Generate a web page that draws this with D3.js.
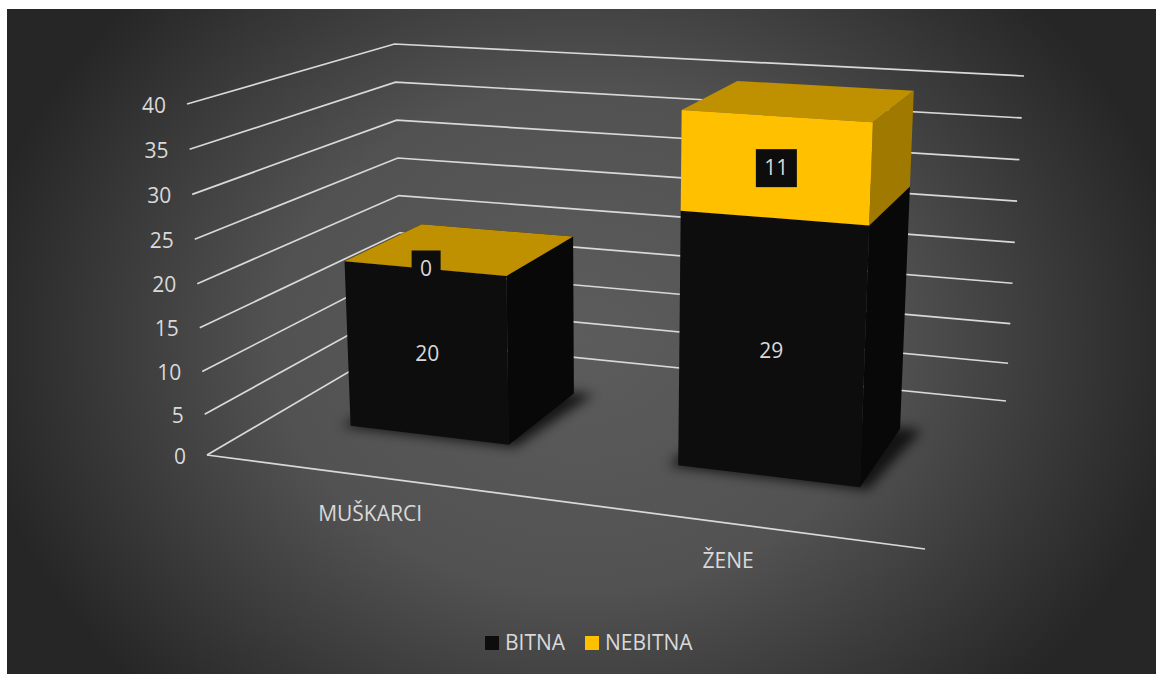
<!DOCTYPE html>
<html>
<head>
<meta charset="utf-8">
<script src="https://cdn.jsdelivr.net/npm/d3@7"></script>
<style>
html, body { margin: 0; padding: 0; background: #fff; }
svg { display: block; }
text { font-family: "Open Sans", sans-serif; fill: #d9d9d9; font-size: 21px; }
</style>
</head>
<body>
<div id="chart"></div>
<script>
var categories = ["MUŠKARCI", "ŽENE"];
var bitna = [20, 29];
var nebitna = [0, 11];
var valueTicks = [0, 5, 10, 15, 20, 25, 30, 35, 40];
var seriesNames = ["BITNA", "NEBITNA"];
var seriesColors = ["#0d0d0d", "#ffc000"];

var width = 1156, height = 674;

var svg = d3.select("#chart").append("svg")
	.attr("width", width)
	.attr("height", height);

var defs = svg.append("defs");

var bg = defs.append("radialGradient")
	.attr("id", "bg")
	.attr("gradientUnits", "userSpaceOnUse")
	.attr("cx", 0).attr("cy", 0).attr("r", 1)
	.attr("gradientTransform", "translate(581,340) scale(610,500)");
bg.append("stop").attr("offset", "0%").attr("stop-color", "#5c5c5c");
bg.append("stop").attr("offset", "50%").attr("stop-color", "#525252");
bg.append("stop").attr("offset", "100%").attr("stop-color", "#262626");

var blur = defs.append("filter").attr("id", "blur")
	.attr("x", "-20%").attr("y", "-20%").attr("width", "140%").attr("height", "140%");
blur.append("feGaussianBlur").attr("stdDeviation", 6);

svg.append("rect")
	.attr("x", 7).attr("y", 9)
	.attr("width", 1149).attr("height", 665)
	.attr("fill", "url(#bg)");

// pod grafikona (uglovi na ekranu) i visina zida u tim uglovima
var floor = { fl: [207, 455], fr: [925, 549], br: [1006, 401], bl: [403, 340] };
var wallH = { fl: 351, br: 325, bl: 296 };
var vanish = [610, 7537];

var x = d3.scaleBand().domain(categories).range([0.004, 1.004]).paddingInner(0.5).paddingOuter(0.25);
var z = d3.scaleBand().domain(["d"]).range([0, 1]).paddingOuter(0.72);
var y = d3.scalePow().exponent(1.035).domain([0, 40]).range([0, 1]);

// homografija poda
var dx1 = floor.fr[0] - floor.br[0], dx2 = floor.bl[0] - floor.br[0];
var dy1 = floor.fr[1] - floor.br[1], dy2 = floor.bl[1] - floor.br[1];
var sx = floor.fl[0] - floor.fr[0] + floor.br[0] - floor.bl[0];
var sy = floor.fl[1] - floor.fr[1] + floor.br[1] - floor.bl[1];
var det = dx1 * dy2 - dx2 * dy1;
var g = (sx * dy2 - dx2 * sy) / det;
var h = (dx1 * sy - sx * dy1) / det;
var a = floor.fr[0] - floor.fl[0] + g * floor.fr[0], b = floor.bl[0] - floor.fl[0] + h * floor.bl[0];
var d = floor.fr[1] - floor.fl[1] + g * floor.fr[1], e = floor.bl[1] - floor.fl[1] + h * floor.bl[1];

function project(u, v, w) {
	var q = g * u + h * w + 1;
	var fx = (a * u + b * w + floor.fl[0]) / q;
	var fy = (d * u + e * w + floor.fl[1]) / q;
	var inv = 1 / wallH.fl + u * (1 / wallH.br - 1 / wallH.bl) + w * (1 / wallH.bl - 1 / wallH.fl);
	var up = y(v) / inv;
	return [fx - (vanish[0] - fx) / (vanish[1] - fy) * up, fy - up];
}

var line = d3.line();

// mreza
svg.append("g").selectAll("path")
	.data(valueTicks)
	.enter().append("path")
	.attr("d", function(v) { return line([project(0, v, 0), project(0, v, 1), project(1, v, 1)]); })
	.attr("fill", "none")
	.attr("stroke", "#d9d9d9")
	.attr("stroke-width", 1.7);

svg.append("path")
	.attr("d", line([project(0, 0, 0), project(1, 0, 0)]))
	.attr("fill", "none")
	.attr("stroke", "#d9d9d9")
	.attr("stroke-width", 1.7);

svg.append("g").selectAll("text")
	.data(valueTicks)
	.enter().append("text")
	.attr("x", function(v) { return project(0, v, 0)[0] - 21; })
	.attr("y", function(v) { return project(0, v, 0)[1] + 3; })
	.attr("text-anchor", "end")
	.attr("dominant-baseline", "middle")
	.text(function(v) { return v; });

var layer = svg.append("g");

function face(points, color) {
	return layer.append("path").attr("d", line(points) + "Z").attr("fill", color);
}

categories.forEach(function(cat, i) {
	var u0 = x(cat), u1 = x(cat) + x.bandwidth(), um = x(cat) + x.bandwidth() / 2;
	var w0 = z("d"), w1 = z("d") + z.bandwidth();

	// sjena
	layer.append("path")
		.attr("d", line([project(u0 - 0.012, 0, w0 - 0.01), project(u1 + 0.012, 0, w0 - 0.01), project(u1 + 0.03, 0, w1 + 0.01), project(u0, 0, w1)]) + "Z")
		.attr("fill", "#000").attr("opacity", 0.75).attr("filter", "url(#blur)");

	var stacks = [
		{ from: 0, to: bitna[i], front: seriesColors[0], side: "#080808", top: "#0d0d0d" },
		{ from: bitna[i], to: bitna[i] + nebitna[i], front: seriesColors[1], side: "#a07a00", top: "#bf9000" }
	];
	stacks.forEach(function(s) {
		face([project(u1, s.from, w0), project(u1, s.from, w1), project(u1, s.to, w1), project(u1, s.to, w0)], s.side);
		face([project(u0, s.to, w0), project(u1, s.to, w0), project(u1, s.to, w1), project(u0, s.to, w1)], s.top);
		face([project(u0, s.from, w0), project(u1, s.from, w0), project(u1, s.to, w0), project(u0, s.to, w0)], s.front);
	});

	// oznake
	var mid1 = project(um, bitna[i] / 2, w0);
	var mid2 = project(um, bitna[i] + nebitna[i] / 2, w0);
	layer.append("text").attr("x", mid1[0] + 1).attr("y", mid1[1] + 2)
		.attr("text-anchor", "middle").attr("dominant-baseline", "middle")
		.text(bitna[i]);
	var boxW = String(nebitna[i]).length * 12 + 17;
	layer.append("rect")
		.attr("x", mid2[0] + 2 - boxW / 2).attr("y", mid2[1] - 18)
		.attr("width", boxW).attr("height", 38).attr("fill", "#0d0d0d");
	layer.append("text").attr("x", mid2[0] + 2).attr("y", mid2[1] + 2)
		.attr("text-anchor", "middle").attr("dominant-baseline", "middle")
		.text(nebitna[i]);

	// kategorija
	var c = project(um, 0, 0);
	svg.append("text").attr("x", c[0]).attr("y", c[1] + 39)
		.attr("text-anchor", "middle").attr("dominant-baseline", "middle")
		.text(cat);
});

// legenda
var legendX = [485, 585];
var legend = svg.append("g").selectAll("g")
	.data(seriesNames)
	.enter().append("g")
	.attr("transform", function(s, i) { return "translate(" + legendX[i] + ",643)"; });
legend.append("rect").attr("y", -7).attr("width", 14).attr("height", 14)
	.attr("fill", function(s, i) { return seriesColors[i]; });
legend.append("text").attr("x", 20).attr("y", 1).attr("dominant-baseline", "middle")
	.text(function(s) { return s; });
</script>
</body>
</html>
